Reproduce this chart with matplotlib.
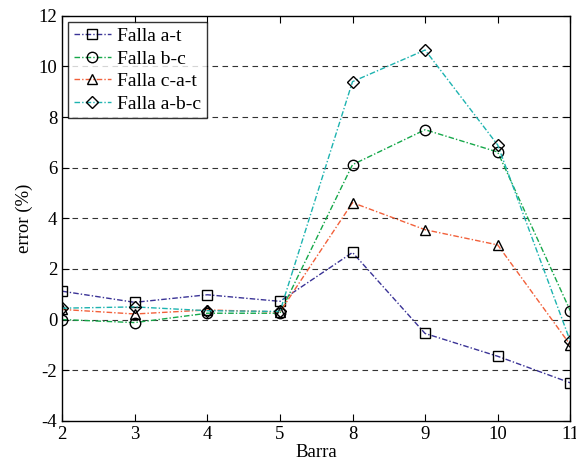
import matplotlib
matplotlib.use('Agg')
import matplotlib.pyplot as plt
import numpy as np

barras = ['2', '3', '4', '5', '8', '9', '10', '11']
falla_at = [1.12, 0.68, 0.98, 0.72, 2.65, -0.55, -1.45, -2.5]
falla_bc = [0.0, -0.12, 0.25, 0.25, 6.12, 7.5, 6.62, 0.35]
falla_cat = [0.4, 0.22, 0.38, 0.3, 4.62, 3.55, 2.95, -1.0]
falla_abc = [0.45, 0.5, 0.35, 0.32, 9.4, 10.65, 6.9, -0.85]

plt.rcParams['font.family'] = ['Liberation Serif', 'DejaVu Serif']
plt.rcParams['axes.unicode_minus'] = False

fig = plt.figure(figsize=(5.76, 4.66), dpi=100)
ax = fig.add_axes([0.108, 0.097, 0.882, 0.869])

x = np.arange(len(barras))
dash = (0, (4, 1.5, 1, 1.5))
series = [
    (falla_at, 's', '#3a3396', 'Falla a-t'),
    (falla_bc, 'o', '#16a84a', 'Falla b-c'),
    (falla_cat, '^', '#f2603a', 'Falla c-a-t'),
    (falla_abc, 'D', '#1db3b0', 'Falla a-b-c'),
]
for vals, m, c, lab in series:
    ax.plot(x, vals, linestyle=dash, color=c, linewidth=1.0, marker=m,
            markersize=7.5 if m != 'D' else 6.5, markerfacecolor='none',
            markeredgecolor='black', markeredgewidth=1.0, label=lab)

ax.set_xlim(0, len(barras) - 1)
ax.set_ylim(-4, 12)
ax.set_xticks(x)
ax.set_xticklabels(barras)
ax.set_yticks(np.arange(-4, 13, 2))
for yv in np.arange(-2, 11, 2):
    ax.axhline(yv, color='#333333', linestyle=(0, (5, 4)), linewidth=0.8, zorder=0)

ax.tick_params(direction='in', top=True, right=True, labelsize=13.5, length=5)
for s in ax.spines.values():
    s.set_linewidth(1.0)
ax.set_xlabel('Barra', fontsize=13.5, labelpad=1)
ax.set_ylabel('error (%)', fontsize=13.5)

leg = ax.legend(loc='upper left', fontsize=14, frameon=True, fancybox=False,
                edgecolor='black', borderpad=0.3, labelspacing=0.25,
                handlelength=1.9, handletextpad=0.3, borderaxespad=0.3)
leg.get_frame().set_linewidth(1.0)

fig.savefig('out.png', dpi=100)
